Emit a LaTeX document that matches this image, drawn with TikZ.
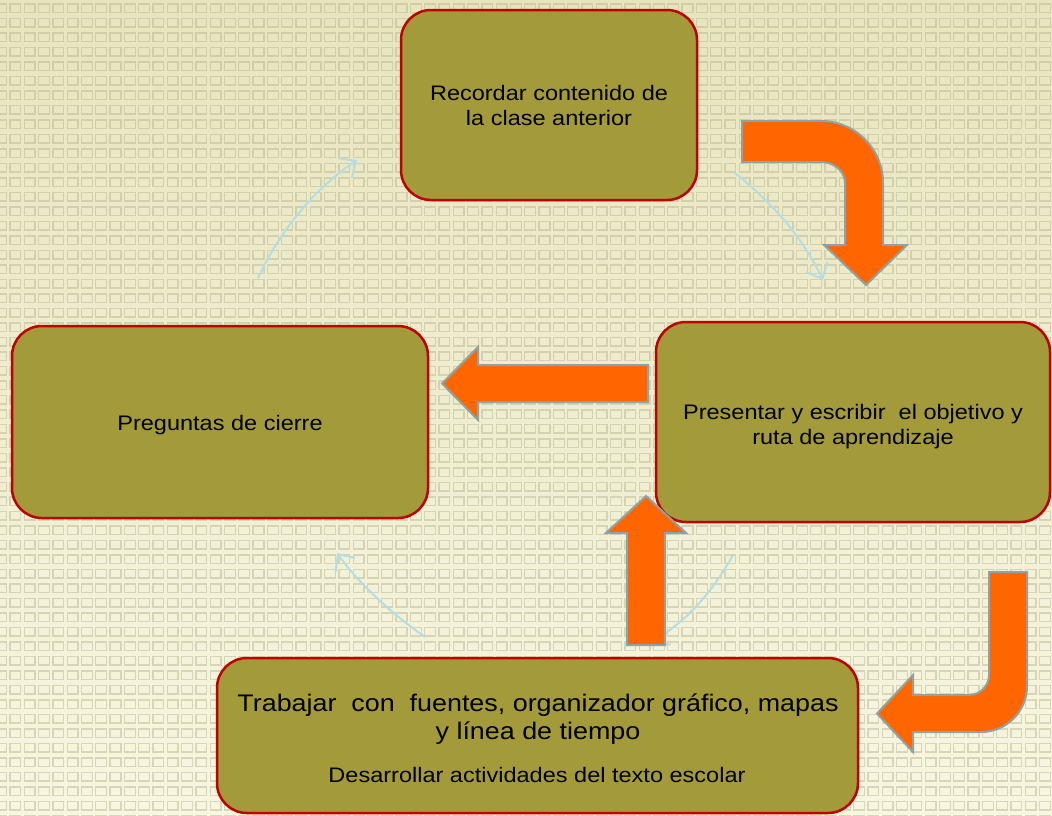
\documentclass[tikz,border=0pt]{standalone}
\usepackage{fontspec}
\setmainfont{Liberation Sans}[FakeStretch=1.12]
\usetikzlibrary{arrows.meta}
\definecolor{bgtop}{HTML}{E7E5BE}
\definecolor{bgbot}{HTML}{F8F6E1}
\definecolor{gridc}{HTML}{B4B28C}
\definecolor{boxfill}{HTML}{A39B39}
\definecolor{boxline}{HTML}{C00000}
\definecolor{orng}{HTML}{FF6600}
\definecolor{arrline}{HTML}{8EA3A6}
\definecolor{cyc}{HTML}{B5DDE3}
\begin{document}
\begin{tikzpicture}[x=1pt,y=-1pt,
  box/.style={draw=boxline, line width=2.5pt, fill=boxfill, rounded corners=30pt,
    inner sep=0pt, align=center, text=black, font=\fontsize{21}{25}\selectfont},
  bigarrow/.style={fill=orng, draw=arrline, line width=2pt, line join=miter},
  cycarrow/.style={draw=cyc, line width=2pt, -{Straight Barb[length=13pt,width=24pt,line width=2pt]}},
  label/.style={inner sep=0pt, align=center, text=black}]
\useasboundingbox (0,0) rectangle (1052,815);
% background
\shade[top color=bgtop, bottom color=bgbot] (0,0) rectangle (1052,815);
\draw[gridc, line width=1.3pt, opacity=0.45]
  \foreach \i in {0,...,73}{ \foreach \j in {0,...,56}{
    (\i*14.3-4.3, \j*14.5+4) rectangle ++(10.8,8.6) } };

% cycle arcs
\coordinate (a0) at (258,278); \coordinate (a1) at (357,160);
\coordinate (b0) at (735,173); \coordinate (b1) at (823,280);
\coordinate (c0) at (733,555); \coordinate (c1) at (652,642);
\coordinate (d0) at (425,637); \coordinate (d1) at (337,553);
\draw[cycarrow] (a0) .. controls (280,231) and (313,190) .. (a1);
\draw[cycarrow] (b0) .. controls (771,202) and (802,236) .. (b1);
\draw[cycarrow] (c0) .. controls (712,592) and (688,620) .. (c1);
\draw[cycarrow] (d0) .. controls (398,618) and (362,588) .. (d1);

% boxes
\node[box, minimum width=296pt, minimum height=190pt] (top) at (549,105)
  {Recordar contenido de\\la clase anterior};
\node[box, minimum width=416pt, minimum height=192pt] (left) at (220,422)
  {\raisebox{-3pt}[\height][\depth]{Preguntas de cierre}};
\node[box, minimum width=394pt, minimum height=200pt] (right) at (853,422)
  {\raisebox{-5pt}[\height][\depth]{\begin{tabular}{@{}c@{}}Presentar y escribir\ \ el objetivo y\\ruta de aprendizaje\end{tabular}}};
\node[box, minimum width=641pt, minimum height=155pt] (bottom) at (537.5,735.5) {};
\node[label, font=\fontsize{24}{28}\selectfont] (btext) at (538,719)
  {Trabajar\ \ con\ \ fuentes, organizador gráfico, mapas\\y línea de tiempo};
\node[label, font=\fontsize{21}{25}\selectfont] (btext2) at (537,775)
  {Desarrollar actividades del texto escolar};

% big orange arrows
\draw[bigarrow] (742,121) -- (821,121) .. controls (855.2,121) and (883,148.8) .. (883,183)
  -- (883,245) -- (907,245) -- (866,285) -- (824,245) -- (845,245) -- (845,183)
  .. controls (845,171.4) and (834.3,162) .. (821,162) -- (742,162) -- cycle;
\draw[bigarrow] (648,365) -- (478,365) -- (478,347) -- (442,383.5) -- (478,420)
  -- (478,402) -- (648,402) -- cycle;
\draw[bigarrow] (627,645) -- (627,533) -- (606,533) -- (646,496) -- (686,533)
  -- (665,533) -- (665,645) -- cycle;
\draw[bigarrow] (989,572) -- (1027,572) -- (1027,686) .. controls (1027,711.4) and (1006.4,732) .. (981,732)
  -- (913,732) -- (913,752) -- (877,713.5) -- (913,675) -- (913,695) -- (969,695)
  .. controls (980,695) and (989,686) .. (989,675) -- cycle;
\end{tikzpicture}
\end{document}
